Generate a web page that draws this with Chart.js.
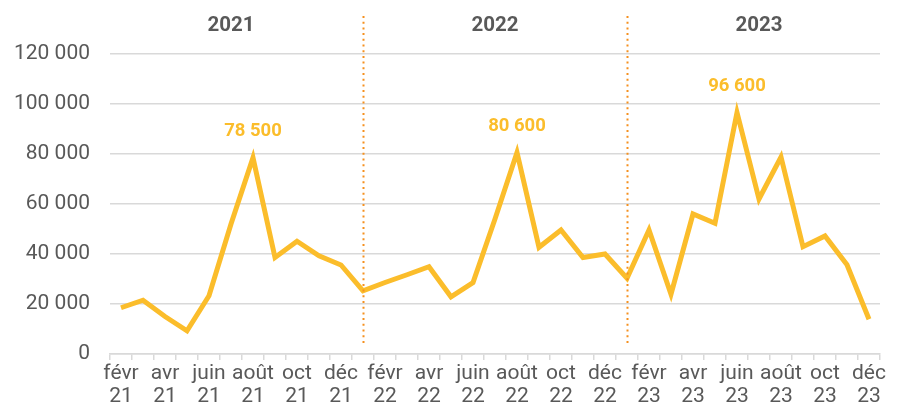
<!DOCTYPE html>
<html>
<head>
<meta charset="utf-8">
<script src="https://cdn.jsdelivr.net/npm/chart.js@4"></script>
<style>
  html, body { margin: 0; padding: 0; background: #fff; }
  #wrap { width: 901px; height: 407px; }
</style>
</head>
<body>
<div id="wrap"><canvas id="chart"></canvas></div>
<script>
const monthNames = ['janv', 'févr', 'mars', 'avr', 'mai', 'juin', 'juil', 'août', 'sept', 'oct', 'nov', 'déc'];
const years = ['2021', '2022', '2023'];

const values2021 = [18500, 21500, 15000, 9300, 23300, 52000, 78500, 38600, 45100, 39300, 35600]; // févr -> déc
const values2022 = [25300, 28600, 31700, 34900, 22900, 28600, 54000, 80600, 42700, 49600, 38600, 40000];
const values2023 = [30300, 49600, 23900, 56000, 52300, 96600, 62000, 78800, 42900, 47200, 35700, 13900];

const yTicks = [0, 20000, 40000, 60000, 80000, 100000, 120000];

// categories: [month, yy]
const labels = [];
years.forEach((y, yi) => {
  monthNames.forEach((m, mi) => {
    if (yi === 0 && mi === 0) return; // starts in févr 2021
    labels.push([m, y.slice(2)]);
  });
});
const values = values2021.concat(values2022, values2023);

const fmt = v => String(v).replace(/\B(?=(\d{3})+(?!\d))/g, ' ');

const grey = '#595959';
const lineColor = '#fbbd2b';
const sepColor = '#f5901e';

const overlay = {
  id: 'overlay',
  afterDatasetsDraw(chart) {
    const ctx = chart.ctx;
    const x = chart.scales.x;
    const meta = chart.getDatasetMeta(0);
    ctx.save();

    // dotted separators at each janv
    ctx.strokeStyle = sepColor;
    ctx.lineWidth = 2;
    ctx.setLineDash([2, 3.7]);
    labels.forEach((l, i) => {
      if (l[0] !== 'janv') return;
      const px = Math.round(x.getPixelForValue(i)) + 0.5;
      ctx.beginPath();
      ctx.moveTo(px, 16);
      ctx.lineTo(px, chart.chartArea.bottom - 10);
      ctx.stroke();
    });
    ctx.setLineDash([]);

    // year titles above juil of each year
    ctx.fillStyle = grey;
    ctx.font = 'bold 20.5px Roboto';
    ctx.textAlign = 'center';
    ctx.textBaseline = 'middle';
    years.forEach(y => {
      const i = labels.findIndex(l => l[0] === 'juil' && l[1] === y.slice(2));
      ctx.fillText(y, x.getPixelForValue(i), 26);
    });

    // peak of each year
    ctx.fillStyle = lineColor;
    ctx.font = 'bold 18.5px Roboto';
    years.forEach(y => {
      let best = -1;
      labels.forEach((l, i) => {
        if (l[1] === y.slice(2) && (best < 0 || values[i] > values[best])) best = i;
      });
      const pt = meta.data[best];
      ctx.fillText(fmt(values[best]), pt.x, pt.y - 26);
    });
    ctx.restore();
  }
};

new Chart(document.getElementById('chart'), {
  type: 'line',
  data: {
    labels: labels,
    datasets: [{
      data: values,
      borderColor: lineColor,
      borderWidth: 5,
      pointRadius: 0,
      tension: 0,
      borderJoinStyle: 'miter'
    }]
  },
  options: {
    responsive: true,
    maintainAspectRatio: false,
    animation: false,
    layout: { padding: { top: 54, right: 21, left: 13, bottom: 0 } },
    plugins: { legend: { display: false }, tooltip: { enabled: false } },
    scales: {
      x: {
        offset: true,
        afterFit: axis => { axis.height = 53; },
        grid: { offset: true, drawOnChartArea: false, tickLength: 6, color: '#d9d9d9', lineWidth: 1.5 },
        border: { color: '#d9d9d9', width: 1.5 },
        ticks: {
          autoSkip: false,
          maxRotation: 0,
          padding: 2,
          color: grey,
          font: { family: 'Roboto', size: 21, lineHeight: 1.1 },
          callback: (v, i) => (i % 2 === 0 ? labels[i] : '')
        }
      },
      y: {
        min: yTicks[0],
        max: yTicks[yTicks.length - 1],
        afterBuildTicks: axis => { axis.ticks = yTicks.map(v => ({ value: v })); },
        afterFit: axis => { axis.width = 97; },
        grid: { drawTicks: false, color: '#d9d9d9', lineWidth: 1.5 },
        border: { display: false },
        ticks: {
          padding: 20,
          color: grey,
          font: { family: 'Roboto', size: 21 },
          callback: v => fmt(v)
        }
      }
    }
  },
  plugins: [overlay]
});
</script>
</body>
</html>
